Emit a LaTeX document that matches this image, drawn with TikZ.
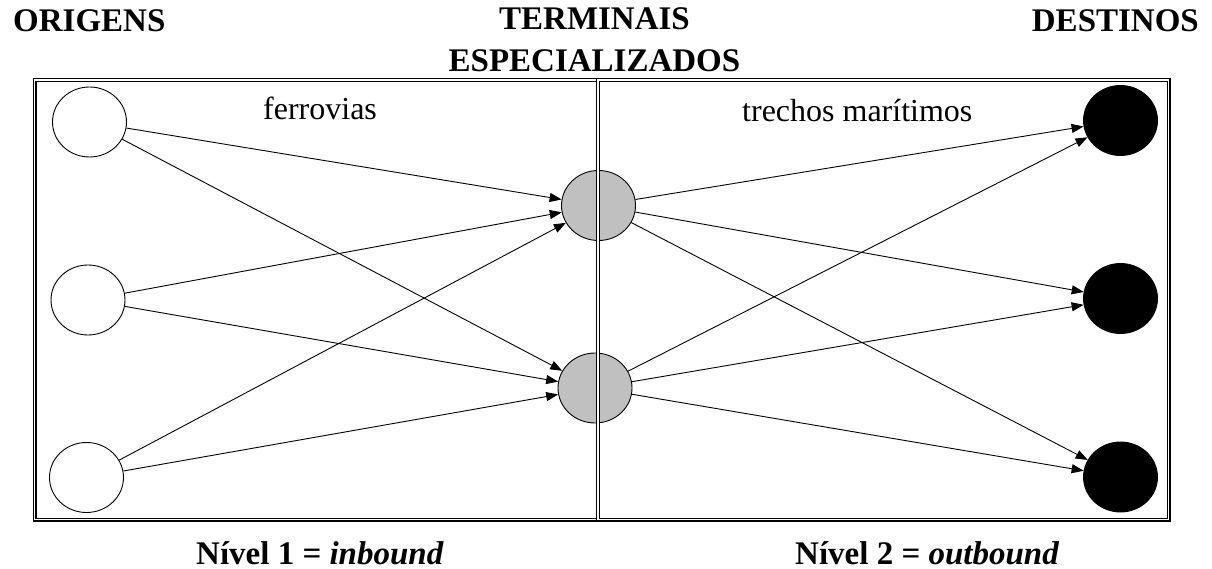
\documentclass[tikz,border=0pt]{standalone}
\usepackage{fontspec}
\setmainfont{Liberation Serif}
\usetikzlibrary{shapes.geometric, arrows.meta}
\definecolor{termgray}{RGB}{192,192,192}
\tikzset{
  site/.style={draw, ellipse, line width=0.9pt, minimum width=74pt, minimum height=70pt, inner sep=0pt},
  origem/.style={site, fill=white},
  terminal/.style={site, fill=termgray},
  destino/.style={site, fill=black},
  fluxo/.style={line width=0.9pt, -{Triangle[length=12pt,width=9pt]}},
  moldura/.style={double, double distance=1.6pt, line width=1.2pt},
  titulo/.style={font=\fontsize{33}{40}\selectfont\bfseries, inner sep=0pt},
  rotulo/.style={font=\fontsize{32}{40}\selectfont, inner sep=0pt},
}
\begin{document}
\begin{tikzpicture}[x=1pt, y=-1pt]
                \useasboundingbox (0,0) rectangle (1212,569);
                % titulos
                \node[titulo, anchor=base west] (origens) at (13,32) {ORIGENS};
                \node[titulo, anchor=base] (termA) at (594.5,30) {TERMINAIS};
                \node[titulo, anchor=base] (termB) at (594.5,72) {ESPECIALIZADOS};
                \node[titulo, anchor=base east] (destinos) at (1199,32) {DESTINOS};
                \node[rotulo, anchor=base west] (ferrovias) at (263,120) {ferrovias};
                \node[rotulo, anchor=base west] (trechos) at (742,121.5) {trechos marítimos};
                \node[titulo, anchor=base west] (nivel1) at (196,564) {Nível 1 = \textit{inbound}};
                \node[titulo, anchor=base west] (nivel2) at (795,564) {Nível 2 = \textit{outbound}};
                % nos
                \node[origem] (o1) at (89.5,122) {};
                \node[origem] (o2) at (88,300) {};
                \node[origem] (o3) at (86.5,477.5) {};
                \node[terminal] (t1) at (598.5,205.5) {};
                \node[terminal] (t2) at (595,388) {};
                \node[destino] (d1) at (1120.5,120.5) {};
                \node[destino] (d2) at (1120.5,298.5) {};
                \node[destino] (d3) at (1120.5,477) {};
                % fluxos
                \foreach \j in {1,2}{
                    \foreach \i in {1,2,3}{
                        \draw[fluxo] (o\i) -- (t\j);
                        \draw[fluxo] (t\j) -- (d\i);
                    }
                }
                % niveis
                \draw[moldura] (34.5,80) rectangle (598,519.5);
                \draw[moldura] (598,80) rectangle (1168.5,519.5);
            \end{tikzpicture}
\end{document}
